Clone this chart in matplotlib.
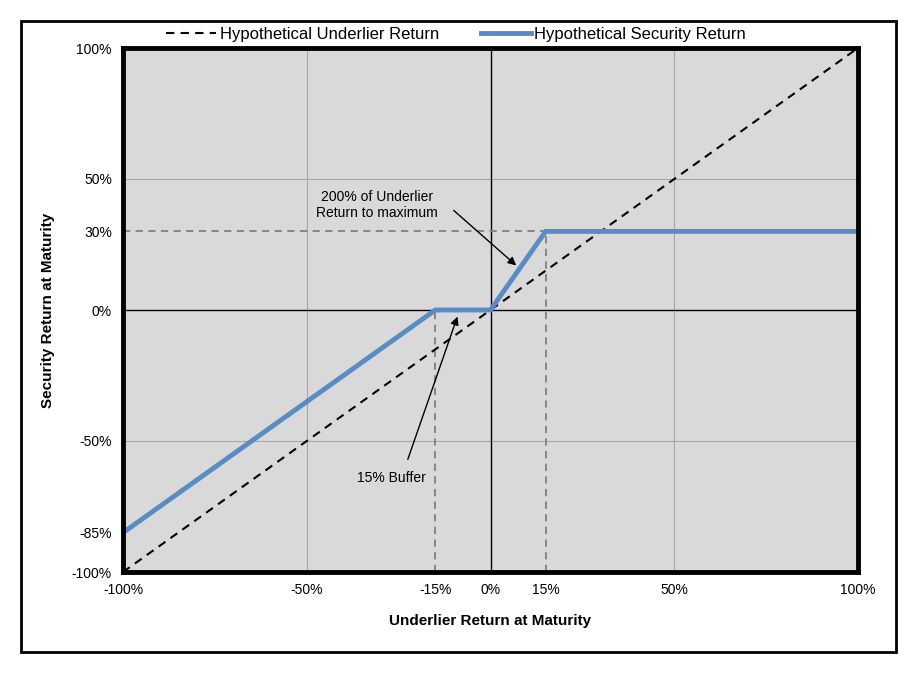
import matplotlib.pyplot as plt
from matplotlib.patches import Rectangle

plt.rcParams['font.family'] = ['Liberation Sans', 'DejaVu Sans']

# payoff data (underlier return, security return), in %
underlier_x = [-100, 100]
underlier_y = [-100, 100]
security_x = [-100, -15, 0, 15, 100]
security_y = [-85, 0, 0, 30, 30]

x_ticks = [-100, -50, -15, 0, 15, 50, 100]
y_ticks = [-100, -85, -50, 0, 30, 50, 100]
grid_x = [-50, 50]
grid_y = [-50, 50]

buffer_level = -15
cap_x = 15
cap_y = 30

fig = plt.figure(figsize=(9.12, 6.83), dpi=100)
ax = fig.add_axes([123 / 912, 1 - 572 / 683, 735 / 912, 524 / 683])
ax.set_facecolor('#D9D9D9')

# outer frame of the whole chart
fig.patches.append(Rectangle((21 / 912, 1 - 652 / 683), 875 / 912, 631 / 683,
                             transform=fig.transFigure, fill=False,
                             edgecolor='black', linewidth=2))

for gx in grid_x:
    ax.axvline(gx, color='#A6A6A6', linewidth=0.8, zorder=1)
for gy in grid_y:
    ax.axhline(gy, color='#A6A6A6', linewidth=0.8, zorder=1)
ax.axvline(0, color='black', linewidth=1, zorder=2)
ax.axhline(0, color='black', linewidth=1, zorder=2)

# guide lines
dash = (0, (4, 3))
ax.plot([-100, cap_x], [cap_y, cap_y], color='#808080', linestyle=dash, linewidth=1.3, zorder=3)
ax.plot([buffer_level, buffer_level], [-100, 0], color='#808080', linestyle=dash, linewidth=1.3, zorder=3)
ax.plot([cap_x, cap_x], [-100, cap_y], color='#808080', linestyle=dash, linewidth=1.3, zorder=3)

ax.plot(underlier_x, underlier_y, color='black', linestyle=dash, linewidth=1.5,
        label='Hypothetical Underlier Return', zorder=4)
ax.plot(security_x, security_y, color='#5B8BC5', linewidth=3.5,
        label='Hypothetical Security Return', zorder=5, solid_joinstyle='miter')

ax.set_xlim(-100, 100)
ax.set_ylim(-100, 100)
ax.set_xticks(x_ticks)
ax.set_xticklabels([f'{v}%' for v in x_ticks], fontsize=10)
ax.set_yticks(y_ticks)
ax.set_yticklabels([f'{v}%' for v in y_ticks], fontsize=10)
ax.tick_params(length=0, pad=8)
for s in ax.spines.values():
    s.set_linewidth(3.5)
    s.set_zorder(6)

ax.set_xlabel('Underlier Return at Maturity', fontsize=11, fontweight='bold', labelpad=12)
ax.set_ylabel('Security Return at Maturity', fontsize=11, fontweight='bold', labelpad=12)

arrow = dict(arrowstyle='-|>', color='black', lw=1, shrinkA=0, shrinkB=0, mutation_scale=12)
ax.text(-31, 40, '200% of Underlier\nReturn to maximum', fontsize=10, ha='center', va='center',
        linespacing=1.15, zorder=7)
ax.annotate('', xy=(7, 17), xytext=(-10, 38), arrowprops=arrow, zorder=7)
ax.annotate('', xy=(-9, -2.5), xytext=(-22.5, -57), arrowprops=arrow, zorder=7)
ax.text(-27, -64, '15% Buffer', fontsize=10, ha='center', va='center', zorder=7)

fig.legend(loc='center', bbox_to_anchor=(0.5, 1 - 34 / 683), ncol=2, frameon=False,
           fontsize=12, handlelength=3, columnspacing=2.5, handletextpad=0.2,
           borderaxespad=0, borderpad=0)

fig.savefig('out.png', dpi=100)
